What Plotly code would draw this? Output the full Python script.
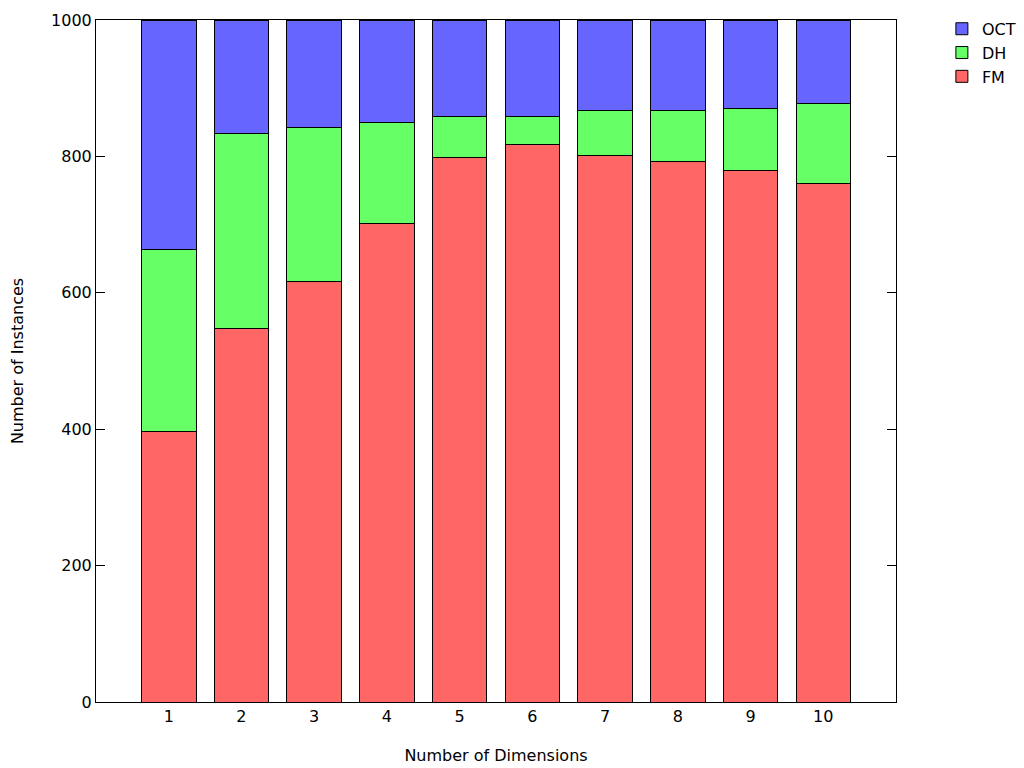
import plotly.graph_objects as go

dims = [1, 2, 3, 4, 5, 6, 7, 8, 9, 10]
fm = [397, 548, 616, 701, 799, 817, 801, 793, 780, 760]
dh_top = [664, 833, 842, 850, 859, 859, 867, 868, 870, 877]
total = [1000] * 10
dh = [t - f for t, f in zip(dh_top, fm)]
oct_ = [tot - t for tot, t in zip(total, dh_top)]

F = dict(family="DejaVu Sans", size=16, color="black")
line = dict(color="black", width=1)

fig = go.Figure()
fig.add_trace(go.Bar(x=dims, y=fm, name="FM", marker=dict(color="#ff6666", line=line), width=0.75))
fig.add_trace(go.Bar(x=dims, y=dh, name="DH", marker=dict(color="#66ff66", line=line), width=0.75))
fig.add_trace(go.Bar(x=dims, y=oct_, name="OCT", marker=dict(color="#6666ff", line=line), width=0.75))

fig.update_layout(
    barmode="stack",
    width=1024, height=768,
    margin=dict(l=88, r=136, t=12, b=74),
    paper_bgcolor="white", plot_bgcolor="white",
    font=F,
    showlegend=True,
    legend=dict(xref="container", yref="container", x=0.912, y=0.995, xanchor="left", yanchor="top",
                traceorder="reversed", font=F, bgcolor="rgba(0,0,0,0)", tracegroupgap=0),
    xaxis=dict(range=[0, 11], tickvals=dims, ticktext=[str(d) for d in dims],
               tickfont=F, automargin=False,
               showgrid=False, zeroline=False, showline=True, linecolor="black", linewidth=1,
               mirror=True, ticks="", title=dict(text="Number of Dimensions", standoff=24, font=F)),
    yaxis=dict(range=[0, 1000], dtick=200, showgrid=False, zeroline=False, showline=True,
               tickfont=F, automargin=False,
               linecolor="black", linewidth=1, mirror="allticks", ticks="inside", ticklen=9,
               tickcolor="black", title=dict(text="Number of Instances", standoff=25, font=F)),
)

fig.write_html("out.html")
